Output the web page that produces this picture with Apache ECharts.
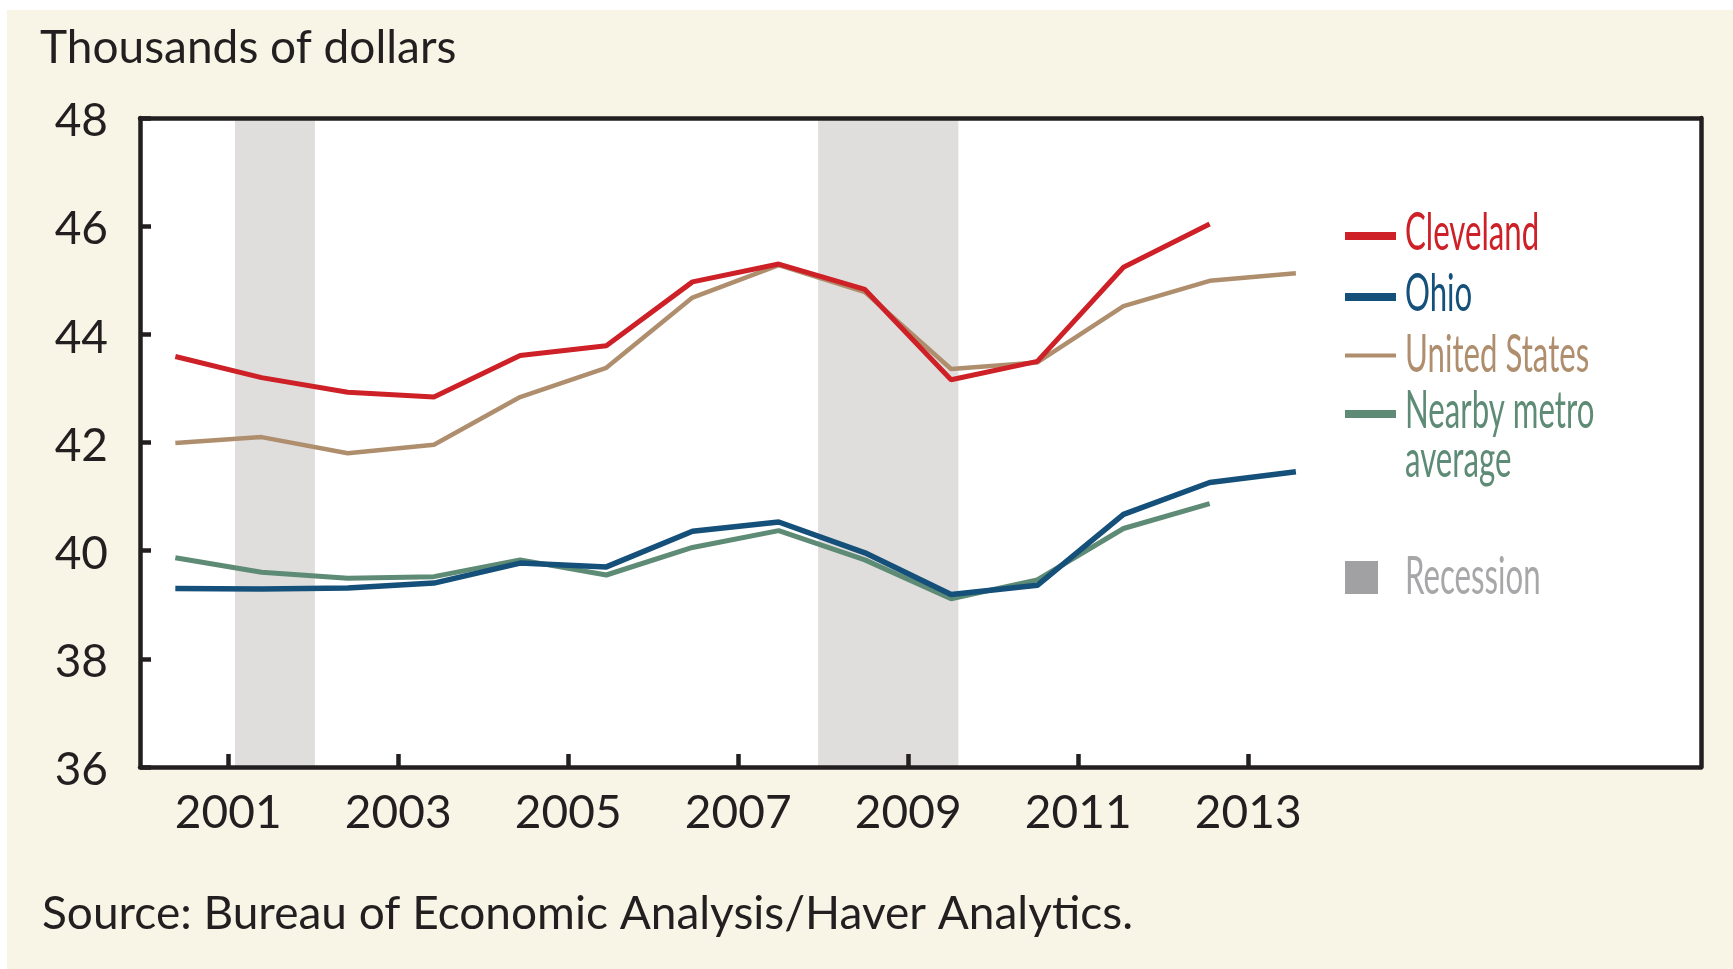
<!DOCTYPE html>
<html>
<head>
<meta charset="utf-8">
<script src="https://cdn.jsdelivr.net/npm/echarts@6/dist/echarts.min.js"></script>
<style>
  html, body { margin: 0; padding: 0; }
  #chart {
    width: 1733px;
    height: 969px;
    background:
      linear-gradient(#fff, #fff) 0 0 / 100% 10px no-repeat,
      linear-gradient(#fff, #fff) 0 0 / 7px 100% no-repeat,
      #f8f5e7;
  }
</style>
</head>
<body>
<div id="chart"></div>
<script>
// 年份与各序列（千美元）
const years = [2000, 2001, 2002, 2003, 2004, 2005, 2006, 2007, 2008, 2009, 2010, 2011, 2012, 2013];
const cleveland = [43.59, 43.20, 42.93, 42.84, 43.61, 43.79, 44.97, 45.30, 44.83, 43.16, 43.50, 45.24, 46.04];
const ohio = [39.30, 39.29, 39.31, 39.40, 39.77, 39.70, 40.36, 40.53, 39.96, 39.19, 39.36, 40.67, 41.26, 41.46];
const unitedStates = [41.99, 42.10, 41.80, 41.96, 42.84, 43.38, 44.68, 45.28, 44.78, 43.36, 43.48, 44.52, 44.99, 45.13];
const nearbyMetro = [39.87, 39.60, 39.49, 39.52, 39.83, 39.55, 40.06, 40.37, 39.83, 39.11, 39.46, 40.41, 40.87];

// 坐标轴刻度标签
const tickYears = [2001, 2003, 2005, 2007, 2009, 2011, 2013];

// 衰退区间
const recessions = [[2001.08, 2002.02], [2007.94, 2009.59]];

const INK = '#231f20';
const COLORS = {
  cleveland: '#cd2027',
  ohio: '#15507a',
  us: '#af8e6e',
  metro: '#5e8b75',
  band: '#dfdedd',
  bandKey: '#a1a1a3',
};

const toPairs = (arr) => arr.map((v, i) => [years[i], v]);

const chart = echarts.init(document.getElementById('chart'));

const lineSeries = (name, data, color, width) => ({
  name,
  type: 'line',
  xAxisIndex: 1,
  yAxisIndex: 0,
  symbol: 'none',
  z: 3,
  lineStyle: { color, width },
  data: toPairs(data),
});

const legendText = (text, x, baseline, color) => ({
  type: 'text',
  x,
  y: baseline - 20,
  scaleX: 0.6,
  silent: true,
  style: {
    text,
    x: 0,
    y: 0,
    font: '52px Lato',
    fill: color,
    verticalAlign: 'middle',
    textVerticalAlign: 'middle',
  },
});

const legendLine = (y, color, width) => ({
  type: 'line',
  silent: true,
  shape: { x1: 1345, y1: y, x2: 1396, y2: y },
  style: { stroke: color, lineWidth: width },
});

const option = {
  backgroundColor: 'transparent',
  animation: false,
  grid: {
    left: 140,
    right: 32,
    top: 118,
    bottom: 202,
    show: true,
    backgroundColor: '#ffffff',
    borderWidth: 0,
  },
  xAxis: [
    {
      type: 'value',
      min: 1999.962,
      max: 2018.327,
      position: 'bottom',
      z: 10,
      axisLine: { show: true, onZero: false, lineStyle: { color: INK, width: 4.5 } },
      axisTick: {
        show: true,
        inside: true,
        length: 13,
        customValues: tickYears,
        lineStyle: { color: INK, width: 4.5 },
      },
      axisLabel: {
        customValues: tickYears,
        formatter: (v) => String(v),
        margin: 23,
        color: INK,
        fontFamily: 'Lato',
        fontSize: 46,
      },
      splitLine: { show: false },
    },
    {
      // 数据所用的隐藏轴（年中位置），同时画上边框
      type: 'value',
      min: 1999.59,
      max: 2017.70,
      position: 'top',
      z: 10,
      axisLine: { show: true, onZero: false, lineStyle: { color: INK, width: 4.5 } },
      axisTick: { show: false },
      axisLabel: { show: false },
      splitLine: { show: false },
    },
  ],
  yAxis: [
    {
      type: 'value',
      min: 36,
      max: 48,
      interval: 2,
      position: 'left',
      z: 10,
      axisLine: { show: true, onZero: false, lineStyle: { color: INK, width: 4.5 } },
      axisTick: { show: true, inside: true, length: 11, lineStyle: { color: INK, width: 4.5 } },
      axisLabel: {
        margin: 32,
        color: INK,
        fontFamily: 'Lato',
        fontSize: 46,
        verticalAlign: 'top',
        lineHeight: 7,
      },
      splitLine: { show: false },
    },
    {
      type: 'value',
      min: 36,
      max: 48,
      position: 'right',
      z: 10,
      axisLine: { show: true, onZero: false, lineStyle: { color: INK, width: 4.5 } },
      axisTick: { show: false },
      axisLabel: { show: false },
      splitLine: { show: false },
    },
  ],
  series: [
    {
      name: 'Recession',
      type: 'line',
      xAxisIndex: 0,
      yAxisIndex: 0,
      data: [],
      z: 1,
      markArea: {
        silent: true,
        itemStyle: { color: COLORS.band },
        data: recessions.map(([a, b]) => [{ xAxis: a }, { xAxis: b }]),
      },
    },
    lineSeries('United States', unitedStates, COLORS.us, 4.5),
    lineSeries('Nearby metro average', nearbyMetro, COLORS.metro, 5),
    lineSeries('Ohio', ohio, COLORS.ohio, 5.5),
    lineSeries('Cleveland', cleveland, COLORS.cleveland, 5),
  ],
  graphic: [
    {
      type: 'text',
      x: 40,
      y: 48,
      silent: true,
      style: {
        text: 'Thousands of dollars',
        font: '46px Lato',
        fill: INK,
        verticalAlign: 'middle',
        textVerticalAlign: 'middle',
      },
    },
    {
      type: 'text',
      x: 42,
      y: 914,
      silent: true,
      style: {
        text: 'Source: Bureau of Economic Analysis/Haver Analytics.',
        font: '46px Lato',
        fill: INK,
        verticalAlign: 'middle',
        textVerticalAlign: 'middle',
      },
    },
    legendLine(236, COLORS.cleveland, 8),
    legendLine(297, COLORS.ohio, 8),
    legendLine(355.5, COLORS.us, 4),
    legendLine(414, COLORS.metro, 8),
    {
      type: 'rect',
      silent: true,
      shape: { x: 1345, y: 561, width: 33, height: 33 },
      style: { fill: COLORS.bandKey },
    },
    legendText('Cleveland', 1405, 253, COLORS.cleveland),
    legendText('Ohio', 1405, 314, COLORS.ohio),
    legendText('United States', 1405, 375, COLORS.us),
    legendText('Nearby metro', 1405, 431, COLORS.metro),
    legendText('average', 1405, 480, COLORS.metro),
    legendText('Recession', 1405, 597, '#a7a7a9'),
  ],
};

chart.setOption(option);
</script>
</body>
</html>
